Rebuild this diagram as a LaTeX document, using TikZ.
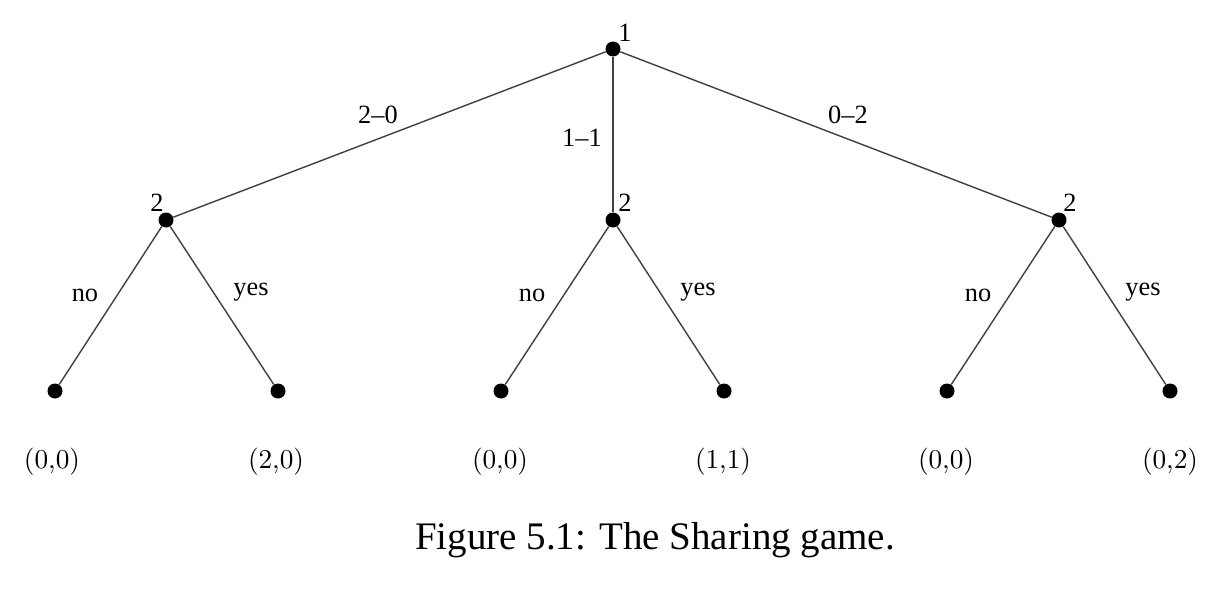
\documentclass[tikz,border=0pt]{standalone}
\usepackage{fontspec}
\setmainfont{Liberation Serif}
\usetikzlibrary{positioning}

\tikzset{
  dot/.style={circle,fill=black,inner sep=0pt,minimum size=0.3cm},
  lbl/.style={font=\fontsize{15}{18}\selectfont,inner sep=1pt},
  payoff/.style={font=\fontfamily{lmr}\fontsize{10}{12}\selectfont,scale=1.55},
  branch/.style={draw=black!75,line width=0.8pt}
}

\begin{document}
\begin{tikzpicture}
    \useasboundingbox (0,0) rectangle (24.44,-11.92);

    \node[dot] (root) at (12.26,-0.98) {};

    \node[dot] (p2a) at (3.32,-4.4) {};
    \node[dot] (p2b) at (12.26,-4.4) {};
    \node[dot] (p2c) at (21.18,-4.4) {};

    \node[dot] (leaf1) at (1.1,-7.82) {};
    \node[dot] (leaf2) at (5.56,-7.82) {};
    \node[dot] (leaf3) at (10.02,-7.82) {};
    \node[dot] (leaf4) at (14.48,-7.82) {};
    \node[dot] (leaf5) at (18.94,-7.82) {};
    \node[dot] (leaf6) at (23.4,-7.82) {};

    \foreach \from/\to in {root/p2a,root/p2b,root/p2c,p2a/leaf1,p2a/leaf2,p2b/leaf3,p2b/leaf4,p2c/leaf5,p2c/leaf6}
    \draw[branch] (\from)--(\to);

    % players
    \node[lbl] (pl1) at (12.5,-0.66) {1};
    \node[lbl] (pl2a) at (3.14,-4.06) {2};
    \node[lbl] (pl2b) at (12.5,-4.06) {2};
    \node[lbl] (pl2c) at (21.4,-4.06) {2};

    % moves
    \node[lbl] (m20) at (7.56,-2.3) {2--0};
    \node[lbl] (m11) at (11.64,-2.76) {1--1};
    \node[lbl] (m02) at (16.96,-2.3) {0--2};

    \node[lbl] (no1) at (1.7,-5.9) {no};
    \node[lbl] (yes1) at (5.02,-5.84) {yes};
    \node[lbl] (no2) at (10.64,-5.9) {no};
    \node[lbl] (yes2) at (13.96,-5.84) {yes};
    \node[lbl] (no3) at (19.56,-5.9) {no};
    \node[lbl] (yes3) at (22.86,-5.84) {yes};

    % payoffs
    \node[payoff] (pay1) at (1.04,-9.24) {(0,0)};
    \node[payoff] (pay2) at (5.52,-9.24) {(2,0)};
    \node[payoff] (pay3) at (10.0,-9.24) {(0,0)};
    \node[payoff] (pay4) at (14.46,-9.24) {(1,1)};
    \node[payoff] (pay5) at (18.92,-9.24) {(0,0)};
    \node[payoff] (pay6) at (23.4,-9.24) {(0,2)};

    \node[font=\fontsize{22.2}{26}\selectfont] (caption) at (13.1,-10.8) {Figure 5.1: The Sharing game.};
\end{tikzpicture}
\end{document}
